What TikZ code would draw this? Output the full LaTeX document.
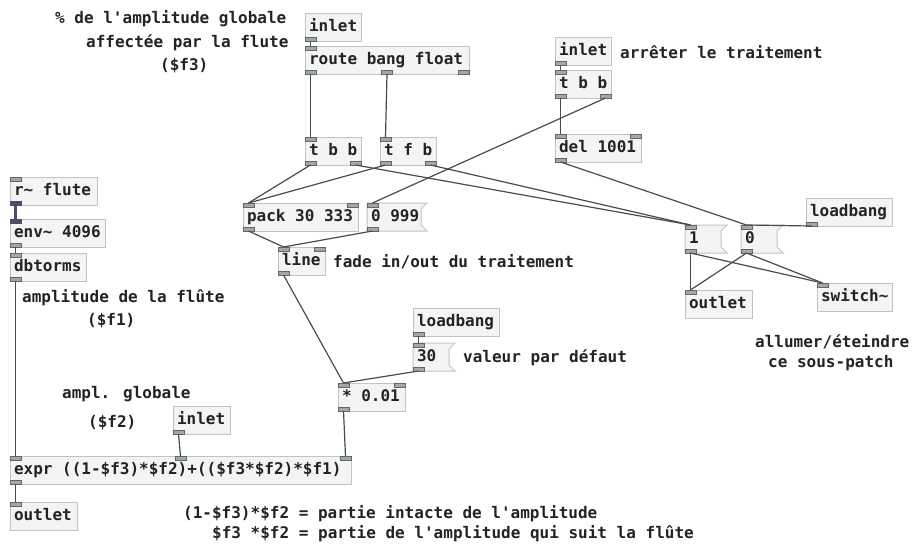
\documentclass[tikz,border=0pt]{standalone}
\usepackage{fontspec}
\newfontfamily\pdfont{DejaVu Sans Mono}
\usetikzlibrary{calc}
\definecolor{boxd}{RGB}{195,195,195}
\definecolor{boxf}{RGB}{244,244,244}
\definecolor{wirec}{RGB}{75,75,75}
\definecolor{portd}{RGB}{95,105,95}
\definecolor{portf}{RGB}{160,170,160}
\definecolor{sig}{RGB}{80,75,105}
\definecolor{txt}{RGB}{35,35,35}
\pgfdeclarelayer{bg}\pgfsetlayers{bg,main}
\newcommand\bx[2]{\makebox[#1][l]{#2}}
\tikzset{
 pdf/.style={font={\pdfont\bfseries\fontsize{16}{19}\selectfont}, text=txt},
 obj/.style={pdf, draw=boxd, fill=boxf, line width=1pt, anchor=north west, minimum height=28pt, inner xsep=4pt, inner ysep=0pt, outer sep=0pt, text height=11pt, text depth=3pt},
 msg/.style={obj, draw=none, fill=none},
 port/.style={draw=portd, fill=portf, line width=0.6pt, minimum width=11pt, minimum height=4pt, inner sep=0pt, outer sep=0pt},
 sport/.style={port, draw=sig, fill=sig},
 wire/.style={draw=wirec, line width=1.2pt},
 swire/.style={draw=sig, line width=3pt},
 cmt/.style={pdf, anchor=base west, inner sep=0pt},
 msgshape/.style={draw=boxd, fill=boxf, line width=1pt},
}
\newcommand\pdinL[1]{\node[port,anchor=north west] (#1-i0) at (#1.north west) {};}
\newcommand\pdinR[2]{\node[port,anchor=north east] (#1-i#2) at (#1.north east) {};}
\newcommand\pdinM[1]{\node[port,anchor=north] (#1-i1) at ($(#1.north west)!0.5!(#1.north east)$) {};}
\newcommand\pdoutL[1]{\node[port,anchor=south west] (#1-o0) at (#1.south west) {};}
\newcommand\pdoutR[2]{\node[port,anchor=south east] (#1-o#2) at (#1.south east) {};}
\newcommand\pdoutM[1]{\node[port,anchor=south] (#1-o1) at ($(#1.south west)!0.5!(#1.south east)$) {};}
\begin{document}
\begin{tikzpicture}[x=1pt,y=-1pt]
\begin{pgfonlayer}{bg}
\fill[white] (0,0) rectangle (916,544);
\end{pgfonlayer}
\useasboundingbox (0,0) rectangle (916,544);
% objects
\node[obj] (inA) at (305,13) {\bx{48pt}{inlet}};
\node[obj] (route) at (305,46) {\bx{156pt}{route bang float}};
\node[obj] (ttbA) at (305,137) {\bx{48pt}{t b b}};
\node[obj] (tfb) at (380,137) {\bx{48pt}{t f b}};
\node[obj] (pack) at (243,203) {\bx{107pt}{pack 30 333}};
\node[msg] (m0999) at (367,203) {\bx{52pt}{0 999}};
\node[obj] (lineo) at (278,247) {\bx{39pt}{line}};
\node[obj] (inB) at (555,37) {\bx{48pt}{inlet}};
\node[obj] (ttbB) at (555,70) {\bx{48pt}{t b b}};
\node[obj] (del) at (555,134) {\bx{78pt}{del 1001}};
\node[msg] (m1) at (685,225) {\bx{34pt}{1}};
\node[msg] (m0) at (741,225) {\bx{34pt}{0}};
\node[obj] (lbR) at (806,198) {\bx{78pt}{loadbang}};
\node[obj] (outR) at (685,290) {\bx{59pt}{outlet}};
\node[obj] (sw) at (817,283) {\bx{67pt}{switch\textasciitilde}};
\node[obj] (lbM) at (413,308) {\bx{78pt}{loadbang}};
\node[msg] (m30) at (413,343) {\bx{34pt}{30}};
\node[obj] (mul) at (338,383) {\bx{59pt}{* 0.01}};
\node[obj] (inC) at (173,406) {\bx{49pt}{inlet}};
\node[obj] (expr) at (10,456) {\bx{333pt}{expr ((1-\$f3)*\$f2)+((\$f3*\$f2)*\$f1)}};
\node[obj] (outL) at (10,502) {\bx{59pt}{outlet}};
\node[obj] (rfl) at (10,177) {\bx{79pt}{r\textasciitilde{} flute}};
\node[obj] (env) at (10,219) {\bx{87pt}{env\textasciitilde{} 4096}};
\node[obj] (dbt) at (10,253) {\bx{68pt}{dbtorms}};
% message box shapes
\begin{pgfonlayer}{bg}
\foreach \m in {m0999,m1,m0,m30}
 \draw[msgshape] (\m.north west) -- (\m.north east) -- ([xshift=-6pt,yshift=-6pt]\m.north east) -- ([xshift=-6pt,yshift=6pt]\m.south east) -- (\m.south east) -- (\m.south west) -- cycle;
\end{pgfonlayer}
% ports
\pdoutL{inA}
\pdinL{route}\pdoutL{route}\pdoutM{route}\pdoutR{route}{2}
\pdinL{ttbA}\pdoutL{ttbA}\pdoutR{ttbA}{1}
\pdinL{tfb}\pdoutL{tfb}\pdoutR{tfb}{1}
\pdinL{pack}\pdinR{pack}{1}\pdoutL{pack}
\pdinL{m0999}\pdoutL{m0999}
\pdinL{lineo}\pdinR{lineo}{1}\pdoutL{lineo}
\pdoutL{inB}
\pdinL{ttbB}\pdoutL{ttbB}\pdoutR{ttbB}{1}
\pdinL{del}\pdinR{del}{1}\pdoutL{del}
\pdinL{m1}\pdoutL{m1}
\pdinL{m0}\pdoutL{m0}
\pdoutL{lbR}
\pdinL{outR}
\pdinL{sw}
\pdoutL{lbM}
\pdinL{m30}\pdoutL{m30}
\pdinL{mul}\pdinR{mul}{1}\pdoutL{mul}
\pdoutL{inC}
\pdinL{expr}\pdinM{expr}\pdinR{expr}{2}\pdoutL{expr}
\pdinL{outL}
\pdinL{rfl}
\node[sport,anchor=south west] (rfl-o0) at (rfl.south west) {};
\node[sport,anchor=north west] (env-i0) at (env.north west) {};
\pdoutL{env}
\pdinL{dbt}\pdoutL{dbt}
% connections
\draw[wire] (inA-o0.south) -- (route-i0.north);
\draw[wire] (route-o0.south) -- (ttbA-i0.north);
\draw[wire] (route-o1.south) -- (tfb-i0.north);
\draw[wire] (ttbA-o0.south) -- (pack-i0.north);
\draw[wire] (ttbA-o1.south) -- (m1-i0.north);
\draw[wire] (tfb-o0.south) -- (pack-i0.north);
\draw[wire] (tfb-o1.south) -- (m1-i0.north);
\draw[wire] (inB-o0.south) -- (ttbB-i0.north);
\draw[wire] (ttbB-o0.south) -- (del-i0.north);
\draw[wire] (ttbB-o1.south) -- (m0999-i0.north);
\draw[wire] (del-o0.south) -- (m0-i0.north);
\draw[wire] (lbR-o0.south) -- (m0-i0.north);
\draw[wire] (m1-o0.south) -- (outR-i0.north);
\draw[wire] (m1-o0.south) -- (sw-i0.north);
\draw[wire] (m0-o0.south) -- (outR-i0.north);
\draw[wire] (m0-o0.south) -- (sw-i0.north);
\draw[wire] (pack-o0.south) -- (lineo-i0.north);
\draw[wire] (m0999-o0.south) -- (lineo-i0.north);
\draw[wire] (lineo-o0.south) -- (mul-i0.north);
\draw[wire] (lbM-o0.south) -- (m30-i0.north);
\draw[wire] (m30-o0.south) -- (mul-i0.north);
\draw[wire] (mul-o0.south) -- (expr-i2.north);
\draw[wire] (inC-o0.south) -- (expr-i1.north);
\draw[wire] (dbt-o0.south) -- (expr-i0.north);
\draw[wire] (expr-o0.south) -- (outL-i0.north);
\draw[wire] (env-o0.south) -- (dbt-i0.north);
\draw[swire] (rfl-o0.south) -- (env-i0.north);
% comments
\node[cmt] (c1) at (55,23.5) {\% de l\textquotesingle amplitude globale};
\node[cmt] (c2) at (86,47.5) {affectée par la flute};
\node[cmt] (c3) at (160,70.5) {(\$f3)};
\node[cmt] (c4) at (620,58.5) {arrêter le traitement};
\node[cmt] (c5) at (333,267.5) {fade in/out du traitement};
\node[cmt] (c6) at (22,302.5) {amplitude de la flûte};
\node[cmt] (c7) at (87,325.5) {(\$f1)};
\node[cmt] (c8) at (463,362.5) {valeur par défaut};
\node[cmt] (c9) at (755,347.5) {allumer/éteindre};
\node[cmt] (c10) at (768,367.5) {ce sous-patch};
\node[cmt] (c11) at (62,398.5) {ampl. globale};
\node[cmt] (c12) at (88,427.5) {(\$f2)};
\node[cmt] (c13) at (183,518.5) {(1-\$f3)*\$f2 = partie intacte de l\textquotesingle amplitude};
\node[cmt] (c14) at (212,538.5) {\$f3 *\$f2 = partie de l\textquotesingle amplitude qui suit la flûte};
\end{tikzpicture}
\end{document}
